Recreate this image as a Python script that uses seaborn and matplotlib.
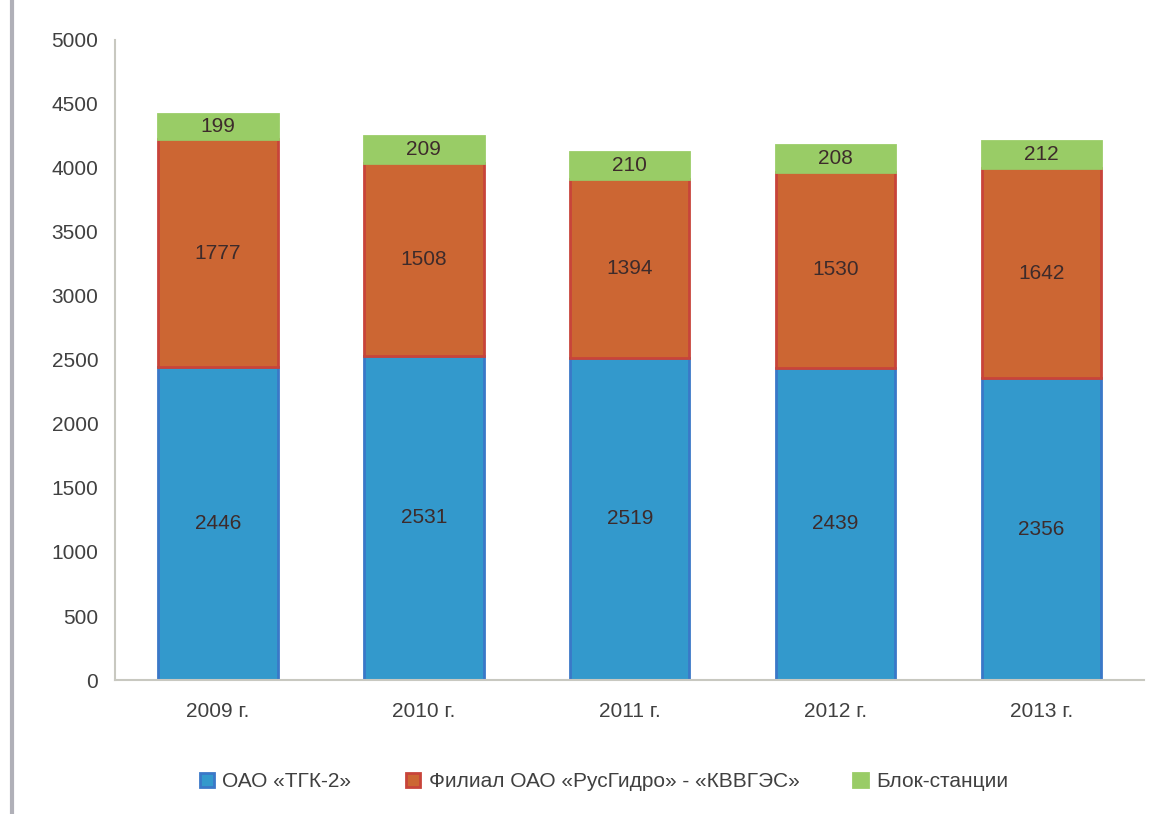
import pandas as pd
import seaborn as sns
import matplotlib.pyplot as plt

years = ['2009 г.', '2010 г.', '2011 г.', '2012 г.', '2013 г.']
tgk2 = [2446, 2531, 2519, 2439, 2356]
rushydro = [1777, 1508, 1394, 1530, 1642]
block = [199, 209, 210, 208, 212]

series_names = ['ОАО «ТГК-2»', 'Филиал ОАО «РусГидро» - «КВВГЭС»', 'Блок-станции']
colors = ['#3399cc', '#cc6633', '#99cc66']
edges = ['#3a78c8', '#c8443a', '#99cc66']

sns.set_style('white')
plt.rcParams['font.family'] = ['Liberation Sans', 'DejaVu Sans']

fig = plt.figure(figsize=(11.56, 8.14), dpi=100)
ax = fig.add_axes([0.0995, 0.1646, 0.8905, 0.7864])

bottom = [0] * len(years)
for name, vals, c, ec in zip(series_names, [tgk2, rushydro, block], colors, edges):
    df = pd.DataFrame({'year': years, 'value': vals})
    sns.barplot(data=df, x='year', y='value', bottom=bottom, color=c, width=0.58,
                edgecolor=ec, linewidth=2, saturation=1, ax=ax, label=name)
    for i, v in enumerate(vals):
        ax.text(i, bottom[i] + v / 2, str(v), ha='center', va='center',
                fontsize=15, color='#3d2b2b')
    bottom = [b + v for b, v in zip(bottom, vals)]

ax.set_ylim(0, 5000)
ax.set_xlim(-0.5, 4.5)
ax.set_yticks(range(0, 5001, 500))
ax.set_xlabel('')
ax.set_ylabel('')
ax.tick_params(axis='both', labelsize=15, colors='#404040', length=0, pad=12)
ax.tick_params(axis='x', pad=16)
for s in ['top', 'right']:
    ax.spines[s].set_visible(False)
for s in ['left', 'bottom']:
    ax.spines[s].set_color('#c8c8c0')
    ax.spines[s].set_linewidth(1.5)

ax.legend(loc='upper center', bbox_to_anchor=(0.475, -0.115), ncol=3, frameon=False,
          fontsize=15, handlelength=0.7, handleheight=0.7, columnspacing=2.6,
          handletextpad=0.4, labelcolor='#404040')

fig.add_artist(plt.Line2D([0.010, 0.010], [0.0, 1.0], color='#b0b0b8', lw=3))

fig.savefig('out.png', dpi=100)
